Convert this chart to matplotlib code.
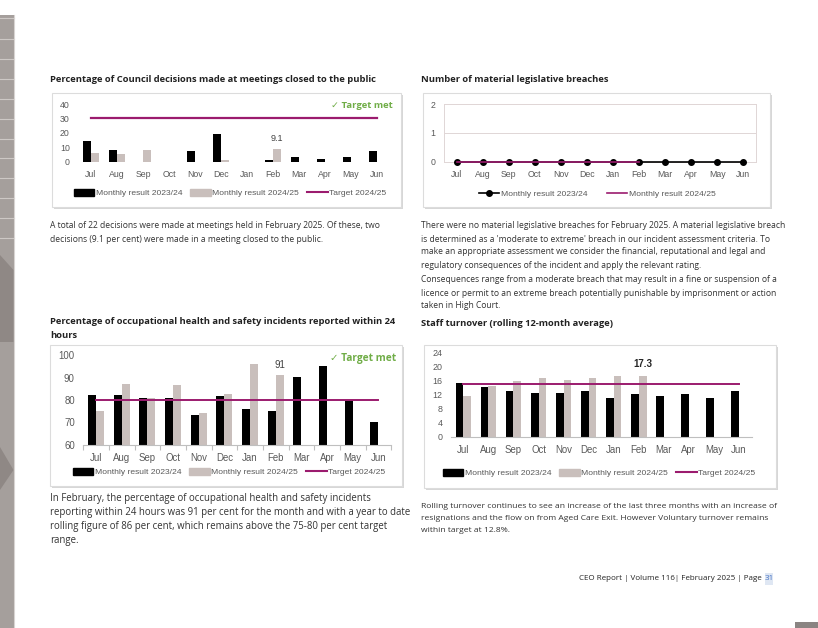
import matplotlib
matplotlib.use('Agg')
import matplotlib.pyplot as plt
from matplotlib.patches import Rectangle, Polygon
from matplotlib.lines import Line2D
import numpy as np

# ==============================
# data
# ==============================
months = ['Jul', 'Aug', 'Sep', 'Oct', 'Nov', 'Dec', 'Jan', 'Feb', 'Mar', 'Apr', 'May', 'Jun']

closed_2324 = [14.4, 8.3, 0, 0, 7.2, 19.4, 0, 1.1, 3.0, 2.1, 3.0, 7.2]
closed_2425 = [6.2, 5.1, 8.1, 0, 0, 1.2, 0, 9.1]
closed_target = 30

breach_2324 = [0] * 12
breach_2425 = [0] * 8

ohs_2324 = [82.2, 82.1, 81.1, 81.0, 73.2, 81.6, 76.2, 75.3, 90.1, 95.1, 79.6, 70.2]
ohs_2425 = [75.3, 87.1, 81.0, 86.5, 74.4, 82.5, 96.1, 91]
ohs_target = 80

turn_2324 = [15.2, 14.1, 13.1, 12.6, 12.4, 13.1, 11.1, 12.1, 11.7, 12.3, 11.1, 13.1]
turn_2425 = [11.6, 14.5, 16.0, 16.7, 16.2, 16.8, 17.3, 17.3]
turn_target = 15

# ==============================
# style
# ==============================
W, H = 818, 628
BLACK = '#000000'
GREY = '#c9bfbc'
PURPLE = '#9b1b6e'
GREEN = '#70ad47'
TICK = '#595959'
TEXT = '#333333'
BODY_FONT = ['Open Sans', 'DejaVu Sans']
CHART_FONT = ['Liberation Sans', 'DejaVu Sans']

fig = plt.figure(figsize=(W / 100, H / 100), dpi=100, facecolor='white')

# page overlay in pixel coordinates
page = fig.add_axes([0, 0, 1, 1], zorder=0)
page.set_xlim(0, W)
page.set_ylim(H, 0)
page.axis('off')


def rect(x0, y0, x1, y1):
    return [x0 / W, 1 - y1 / H, (x1 - x0) / W, (y1 - y0) / H]


def txt(x, y, s, size=6.15, **kw):
    kw.setdefault('color', TEXT)
    kw.setdefault('family', BODY_FONT)
    page.text(x, y, s, fontsize=size, va='center', ha=kw.pop('ha', 'left'), **kw)


# left sidebar
page.add_patch(Rectangle((0, 15), 13.5, H - 15, color='#a59f9c', lw=0))
for yy in [18, 39, 59, 79, 99, 119, 139, 158, 178, 198, 218, 238]:
    page.plot([0, 13.5], [yy, yy], color='#cdc8c5', lw=0.8)
page.add_patch(Polygon([[0, 255], [13.5, 270], [13.5, 342], [0, 342]], color='#8f8885', lw=0))
page.add_patch(Polygon([[0, 447], [13.5, 470], [0, 490]], color='#8f8885', lw=0))
page.plot([14, 14], [15, H], color='#d8d4d2', lw=0.8)
page.add_patch(Rectangle((795, 622), 23, 6, color='#8a8482', lw=0))

# chart frames with soft shadow
for (x0, y0, x1, y1) in [(52, 93, 401, 207), (423, 93, 770, 207),
                         (50, 345, 402, 486), (424, 345, 776, 488)]:
    page.add_patch(Rectangle((x0 + 2, y0 + 2), x1 - x0, y1 - y0, color='#bdbdbd', alpha=0.6, lw=0))
    page.add_patch(Rectangle((x0, y0), x1 - x0, y1 - y0, facecolor='white', edgecolor='#dcdcdc', lw=0.8))

# titles
TSIZE = 6.75
txt(50, 80, 'Percentage of Council decisions made at meetings closed to the public', TSIZE, weight='bold', color='#222222')
txt(421, 80, 'Number of material legislative breaches', TSIZE, weight='bold', color='#222222')
txt(50, 322, 'Percentage of occupational health and safety incidents reported within 24', TSIZE, weight='bold', color='#222222')
txt(50, 336, 'hours', TSIZE, weight='bold', color='#222222')
txt(421, 323, 'Staff turnover (rolling 12-month average)', TSIZE, weight='bold', color='#222222')

# body text
txt(50, 226, 'A total of 22 decisions were made at meetings held in February 2025. Of these, two')
txt(50, 239, 'decisions (9.1 per cent) were made in a meeting closed to the public.')
right_lines = [
    (226, 'There were no material legislative breaches for February 2025. A material legislative breach'),
    (239, "is determined as a 'moderate to extreme' breach in our incident assessment criteria. To"),
    (252, 'make an appropriate assessment we consider the financial, reputational and legal and'),
    (265, 'regulatory consequences of the incident and apply the relevant rating.'),
    (280, 'Consequences range from a moderate breach that may result in a fine or suspension of a'),
    (293, 'licence or permit to an extreme breach potentially punishable by imprisonment or action'),
    (306, 'taken in High Court.'),
]
for yy, s in right_lines:
    txt(421, yy, s)

left_bottom = [
    (498, 'In February, the percentage of occupational health and safety incidents'),
    (513, 'reporting within 24 hours was 91 per cent for the month and with a year to date'),
    (527, 'rolling figure of 86 per cent, which remains above the 75-80 per cent target'),
    (541, 'range.'),
]
for yy, s in left_bottom:
    txt(50, yy, s, 6.9)

right_bottom = [
    (506, 'Rolling turnover continues to see an increase of the last three months with an increase of'),
    (518, 'resignations and the flow on from Aged Care Exit. However Voluntary turnover remains'),
    (530, 'within target at 12.8%.'),
]
for yy, s in right_bottom:
    txt(421, yy, s, 6.1)

# footer
txt(764, 579, 'CEO Report | Volume 116| February 2025 | Page ', 5.8, ha='right', color='#222222')
page.add_patch(Rectangle((764.5, 573), 8, 12, color='#dfe7f3', lw=0))
txt(764.5, 579, '31', 5.8, color='#4472c4')

# ==============================
# charts
# ==============================
x = np.arange(len(months))
BW = 0.31


def base_axes(box, ylim, yticks, size, ysize=None):
    ax = fig.add_axes(rect(*box), zorder=2)
    ax.patch.set_alpha(0)
    ax.set_xlim(-0.5, 11.5)
    ax.set_ylim(*ylim)
    ax.set_yticks(yticks)
    ax.set_xticks(x)
    ax.set_xticklabels(months)
    for s in ax.spines.values():
        s.set_visible(False)
    ax.tick_params(length=0, labelsize=size, labelcolor=TICK, pad=6)
    if ysize:
        ax.tick_params(axis='y', labelsize=ysize)
    for lab in ax.get_xticklabels() + ax.get_yticklabels():
        lab.set_family(CHART_FONT)
    return ax


def legend(ax, handles, labels, cx, cy, spacing=0.95):
    leg = ax.legend(handles, labels, loc='center', bbox_to_anchor=(cx / W, 1 - cy / H),
                    bbox_transform=fig.transFigure, ncol=len(handles), frameon=False,
                    prop={'family': CHART_FONT, 'size': 6.1}, handlelength=2.4, handleheight=0.85,
                    handletextpad=0.2, columnspacing=spacing, borderpad=0)
    for t in leg.get_texts():
        t.set_color(TICK)


bar_handles = [Rectangle((0, 0), 1, 1, color=BLACK), Rectangle((0, 0), 1, 1, color=GREY),
               Line2D([], [], color=PURPLE, lw=1.5)]
bar_labels = ['Monthly result 2023/24', 'Monthly result 2024/25', 'Target 2024/25']

# chart 1 - closed meetings
ax1 = base_axes((78, 104, 390, 161.7), (0, 40), [0, 10, 20, 30, 40], 6.3)
ax1.bar(x - BW / 2, closed_2324, BW, color=BLACK)
ax1.bar(x[:len(closed_2425)] + BW / 2, closed_2425, BW, color=GREY)
ax1.plot(x, [closed_target] * len(x), color=PURPLE, lw=1.6)
ax1.annotate(f'{closed_2425[7]}', (7 + BW / 2, closed_2425[7]), xytext=(0, 4), textcoords='offset points',
             ha='center', va='bottom', fontsize=6.5, color='#404040', family=CHART_FONT)
txt(393, 105, '\u2713 Target met', 6.8, ha='right', weight='bold', color=GREEN)
legend(ax1, bar_handles, bar_labels, 230, 193)

# chart 2 - legislative breaches
ax2 = base_axes((443.7, 104, 756.3, 161.7), (0, 2), [0, 1, 2], 6.3)
for s in ax2.spines.values():
    s.set_visible(True)
    s.set_color('#e0d6d6')
    s.set_linewidth(0.7)
ax2.yaxis.grid(True, color='#e0d6d6', lw=0.7)
ax2.set_axisbelow(True)
ax2.plot(x, breach_2324, color=BLACK, lw=1.2, marker='o', ms=4, zorder=3, clip_on=False)
ax2.plot(x[:len(breach_2425)], breach_2425, color=PURPLE, lw=1.2, zorder=4, clip_on=False)
legend(ax2, [Line2D([], [], color=BLACK, lw=1.2, marker='o', ms=4), Line2D([], [], color=PURPLE, lw=1.2)],
       ['Monthly result 2023/24', 'Monthly result 2024/25'], 597, 194, spacing=2.3)

# chart 3 - OHS incidents
ax3 = base_axes((83.2, 355, 391.2, 445), (60, 100), [60, 70, 80, 90, 100], 6.9)
ax3.spines['bottom'].set_visible(True)
ax3.spines['bottom'].set_color('#bfbfbf')
ax3.spines['bottom'].set_linewidth(0.8)
ax3.set_xticks(np.arange(-0.5, 12, 1), minor=True)
ax3.tick_params(axis='x', which='minor', length=3.5, color='#bfbfbf', width=0.8)
ax3.bar(x - BW / 2, ohs_2324, BW, color=BLACK)
ax3.bar(x[:len(ohs_2425)] + BW / 2, ohs_2425, BW, color=GREY)
ax3.plot(x, [ohs_target] * len(x), color=PURPLE, lw=1.4)
ax3.annotate(f'{ohs_2425[7]}', (7 + BW / 2, ohs_2425[7]), xytext=(0, 4), textcoords='offset points',
             ha='center', va='bottom', fontsize=7, color='#404040', family=CHART_FONT)
txt(396, 358, '\u2713 Target met', 7.3, ha='right', weight='bold', color=GREEN)
legend(ax3, bar_handles, bar_labels, 229, 472)

# chart 4 - staff turnover
ax4 = base_axes((450.8, 352.7, 751.5, 436.7), (0, 24), [0, 4, 8, 12, 16, 20, 24], 6.9, ysize=6.4)
ax4.spines['bottom'].set_visible(True)
ax4.spines['bottom'].set_color('#bfbfbf')
ax4.spines['bottom'].set_linewidth(0.8)
ax4.bar(x - BW / 2, turn_2324, BW, color=BLACK)
ax4.bar(x[:len(turn_2425)] + BW / 2, turn_2425, BW, color=GREY)
ax4.plot(x, [turn_target] * len(x), color=PURPLE, lw=1.4)
ax4.annotate(f'{turn_2425[7]}', (7 + BW / 2, turn_2425[7]), xytext=(0, 5), textcoords='offset points',
             ha='center', va='bottom', fontsize=7, color='#262626', weight='bold', family=CHART_FONT)
legend(ax4, bar_handles, bar_labels, 599, 473)

fig.savefig('out.png', dpi=100, facecolor='white')
